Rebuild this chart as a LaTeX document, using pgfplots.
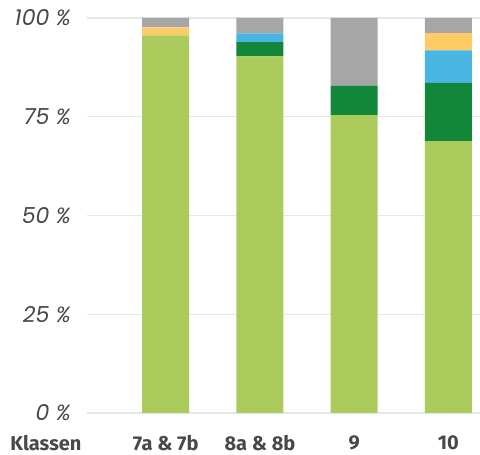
\documentclass[border=0pt]{standalone}
\usepackage{pgfplots}
\pgfplotsset{compat=1.18}
\usepackage{pgfplotstable}
\usepackage{fontspec}
\setmainfont{Fira Sans}
\newfontfamily\tickfont{Poppins}
\definecolor{lgreen}{HTML}{ABCB5C}
\definecolor{dgreen}{HTML}{12873A}
\definecolor{cblue}{HTML}{47B6E2}
\definecolor{cyellow}{HTML}{FECB67}
\definecolor{cgray}{HTML}{A6A6A6}
\definecolor{gridc}{HTML}{E2E9E9}
\definecolor{txt}{HTML}{484848}
\pgfplotstableread{
x g dg b y gr
1 95.6 0 0 2.0 2.4
2 90.3 3.6 2.2 0 3.9
3 75.4 7.4 0 0 17.2
4 68.8 14.8 8.2 4.4 3.8
}\data
\begin{document}
\begin{tikzpicture}
\begin{axis}[
  scale only axis,
  width=393pt, height=395pt,
  at={(0,0)}, anchor=south west,
  ybar stacked,
  bar width=47pt,
  xmin=0.165, xmax=4.335,
  ymin=0, ymax=100,
  axis line style={draw=none},
  ymajorgrids,
  grid style={gridc, line width=1.4pt},
  ytick={0,25,50,75,100},
  yticklabels={0 \%,25 \%,50 \%,75 \%,100 \%},
  yticklabel style={font=\tickfont\fontsize{22}{24}\selectfont\itshape, text=txt, anchor=east, xshift=-16pt, inner sep=0pt},
  xtick={1,2,3,4},
  xticklabels={7a \& 7b, 8a \& 8b, 9, 10},
  xticklabel style={font=\fontsize{20}{22}\selectfont\bfseries, text=txt, anchor=center, yshift=-30pt, inner sep=0pt},
  major tick length=0pt,
  tick style={draw=none},
  clip=false,
]
\addplot[fill=lgreen, draw=none] table[x=x,y=g]{\data};
\addplot[fill=dgreen, draw=none] table[x=x,y=dg]{\data};
\addplot[fill=cblue, draw=none] table[x=x,y=b]{\data};
\addplot[fill=cyellow, draw=none] table[x=x,y=y]{\data};
\addplot[fill=cgray, draw=none] table[x=x,y=gr]{\data};
\end{axis}
\node[font=\fontsize{20}{22}\selectfont\bfseries, text=txt, anchor=center, inner sep=0pt] at (-41pt,-30pt) {Klassen};
\pgfresetboundingbox
\path (-87pt,-42pt) rectangle (393pt,413pt);
\end{tikzpicture}
\end{document}
